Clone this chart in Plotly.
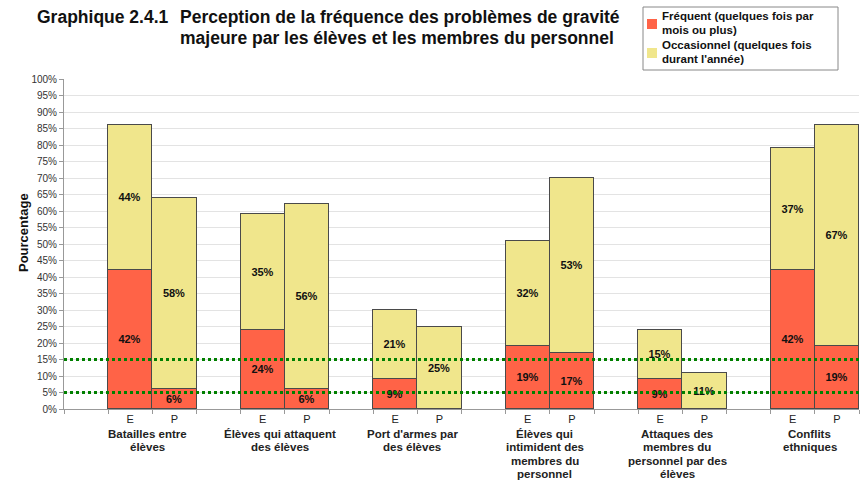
import plotly.graph_objects as go

# Groupes de problèmes (une entrée par ligne de libellé)
groupes = [
    ["Batailles entre", "élèves"],
    ["Élèves qui attaquent", "des élèves"],
    ["Port d'armes par", "des élèves"],
    ["Élèves qui", "intimident des", "membres du", "personnel"],
    ["Attaques des", "membres du", "personnel par des", "élèves"],
    ["Conflits", "ethniques"],
]
repondants = ["E", "P"]

# Pourcentages par groupe : élèves (E) et personnel (P)
frequent_E = [42, 24, 9, 19, 9, 42]
frequent_P = [6, 6, 0, 17, 0, 19]
occasionnel_E = [44, 35, 21, 32, 15, 37]
occasionnel_P = [58, 56, 25, 53, 11, 67]

series = ["Fréquent (quelques fois par", "mois ou plus)"], ["Occasionnel (quelques fois", "durant l'année)"]
titre_num = "Graphique 2.4.1"
titre = ["Perception de la fréquence des problèmes de gravité",
         "majeure par les élèves et les membres du personnel"]

y_ticks = list(range(0, 101, 5))
seuils = [5, 15]

ROUGE = "#FF6347"
JAUNE = "#F0E68C"
CONTOUR = "#4a4a4a"
POLICE = "Liberation Sans, Arial, sans-serif"

W, H = 863, 481
ML, MR, MT, MB = 64, 4, 79, 72
PW, PH = W - ML - MR, H - MT - MB


def px(x):
    return (x - ML) / PW


def py(y):
    return (H - MB - y) / PH


# Chaque groupe occupe trois emplacements : vide, E, P
x_pos, freq, occ, lettres = [], [], [], []
for g in range(len(groupes)):
    for k, r in enumerate(repondants):
        x_pos.append(3 * g + 1 + k)
        lettres.append(r)
    freq += [frequent_E[g], frequent_P[g]]
    occ += [occasionnel_E[g], occasionnel_P[g]]


def etiquettes(vals):
    return [f"{v}%" if v else "" for v in vals]


fig = go.Figure()
for vals, couleur, nom in ((freq, ROUGE, series[0]), (occ, JAUNE, series[1])):
    fig.add_trace(go.Bar(
        x=x_pos, y=vals, width=1, name=" ".join(nom),
        marker=dict(color=couleur, line=dict(color=CONTOUR, width=1)),
        text=etiquettes(vals), textposition="inside", insidetextanchor="middle",
        textfont=dict(family=POLICE, size=11, color="#111111", weight="bold"),
        constraintext="none", showlegend=False,
    ))

# Seuils en pointillés verts
for s in seuils:
    fig.add_shape(type="line", xref="paper", yref="y", x0=0, x1=1, y0=s, y1=s,
                  line=dict(color="#008000", width=3, dash="dot"), layer="above")

# Libellés des groupes sous l'axe, une ligne par annotation
for g, lignes in enumerate(groupes):
    for i, ligne in enumerate(lignes):
        fig.add_annotation(x=3 * g + 1.5 - 0.12, y=0, xref="x", yref="paper",
                           yshift=-25 - 13.3 * i, yanchor="middle", xanchor="center",
                           text=f"<b>{ligne}</b>", showarrow=False, borderpad=0,
                           font=dict(family=POLICE, size=11.5, color="#222222"))

# Titre
fig.add_annotation(x=px(35), y=py(17), xref="paper", yref="paper",
                   xanchor="left", yanchor="middle", showarrow=False,
                   text=f"<b>{titre_num}</b>",
                   font=dict(family=POLICE, size=17.5, color="#111111"))
for i, ligne in enumerate(titre):
    fig.add_annotation(x=px(178), y=py(17 + 21 * i), xref="paper", yref="paper",
                       xanchor="left", yanchor="middle", showarrow=False,
                       text=f"<b>{ligne}</b>",
                       font=dict(family=POLICE, size=17.5, color="#111111"))

# Légende
fig.add_shape(type="rect", xref="paper", yref="paper",
              x0=px(643), x1=px(838), y0=py(7), y1=py(70),
              line=dict(color="#888888", width=1), fillcolor="white", layer="above")
for j, (nom, couleur) in enumerate(zip(series, (ROUGE, JAUNE))):
    y0 = 19 + 29 * j
    fig.add_shape(type="rect", xref="paper", yref="paper",
                  x0=px(647), x1=px(657), y0=py(y0), y1=py(y0 + 10),
                  line=dict(width=0), fillcolor=couleur, layer="above")
    for i, ligne in enumerate(nom):
        fig.add_annotation(x=px(661), y=py(16 + 29 * j + 14 * i), xref="paper", yref="paper",
                           xanchor="left", yanchor="middle", showarrow=False, borderpad=0,
                           text=f"<b>{ligne}</b>",
                           font=dict(family=POLICE, size=11.5, color="#111111"))

# Titre de l'axe vertical
fig.add_annotation(x=px(23), y=py(233), xref="paper", yref="paper",
                   xanchor="center", yanchor="middle", showarrow=False, textangle=-90,
                   text="<b>Pourcentage</b>",
                   font=dict(family=POLICE, size=13, color="#111111"))

fig.update_layout(
    width=W, height=H,
    margin=dict(l=ML, r=MR, t=MT, b=MB),
    barmode="stack", bargap=0,
    plot_bgcolor="white", paper_bgcolor="white",
    font=dict(family=POLICE, color="#222222"),
    showlegend=False,
    xaxis=dict(
        range=[-0.5, 17.5], tickmode="array", tickvals=x_pos, ticktext=lettres,
        ticks="", showgrid=False, zeroline=False,
        showline=True, linecolor="#999999", linewidth=1,
        tickfont=dict(family=POLICE, size=11, color="#222222"),
        minor=dict(tickmode="linear", tick0=-0.5, dtick=1, ticks="outside",
                   ticklen=4, tickcolor="#999999", showgrid=False),
    ),
    yaxis=dict(
        range=[0, 100], tickmode="array", tickvals=y_ticks,
        ticktext=[f"{v}%" for v in y_ticks],
        ticks="outside", ticklen=4, tickcolor="#999999",
        showgrid=True, gridcolor="#e3e3e3", gridwidth=1,
        zeroline=False, showline=True, linecolor="#999999", linewidth=1,
        tickfont=dict(family=POLICE, size=10, color="#333333"),
    ),
)

fig.write_html("out.html")
